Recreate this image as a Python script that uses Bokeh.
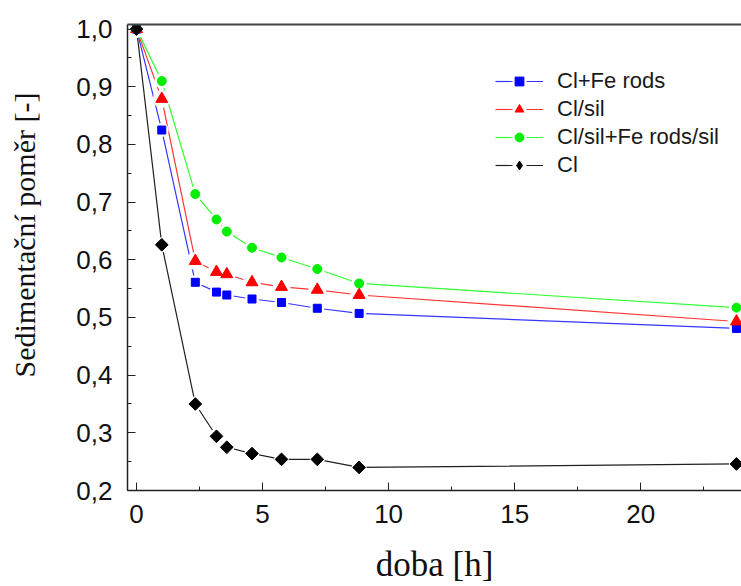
import numpy as np
from bokeh.plotting import figure
from bokeh.models import Legend, LegendItem, FixedTicker, LinearAxis, Range1d
from bokeh.embed import file_html
from bokeh.resources import INLINE

# ---- data ----
time_h = [0, 1.0, 2.33, 3.17, 3.58, 4.58, 5.75, 7.17, 8.83, 23.8]
cl_fe_rods = [1.0, 0.825, 0.561, 0.544, 0.539, 0.532, 0.526, 0.516, 0.507, 0.481]
cl_sil = [1.0, 0.879, 0.598, 0.579, 0.575, 0.561, 0.553, 0.548, 0.539, 0.493]
cl_sil_fe_rods_sil = [1.0, 0.910, 0.714, 0.670, 0.649, 0.621, 0.604, 0.584, 0.559, 0.517]
cl = [1.0, 0.626, 0.350, 0.294, 0.275, 0.264, 0.254, 0.254, 0.240, 0.246]

series_names = ["Cl+Fe rods", "Cl/sil", "Cl/sil+Fe rods/sil", "Cl"]
y_ticks = [0.2, 0.3, 0.4, 0.5, 0.6, 0.7, 0.8, 0.9, 1.0]
y_tick_labels = ["0,2", "0,3", "0,4", "0,5", "0,6", "0,7", "0,8", "0,9", "1,0"]
y_minor = [0.25, 0.35, 0.45, 0.55, 0.65, 0.75, 0.85, 0.95]
x_ticks = [0, 5, 10, 15, 20]
x_tick_labels = ["0", "5", "10", "15", "20"]
x_minor = [2.5, 7.5, 12.5, 17.5, 22.5]
x_title = "doba [h]"
y_title = "Sedimentační poměr [-]"

p = figure(width=741, height=586, output_backend="svg", toolbar_location=None,
           x_range=Range1d(-0.36, 24.0), y_range=Range1d(0.2, 1.008))
p.background_fill_color = "white"
p.border_fill_color = "white"
p.outline_line_color = None
p.xgrid.grid_line_color = None
p.ygrid.grid_line_color = None
p.min_border_top = 24
p.min_border_right = 0
p.min_border_left = 127
p.min_border_bottom = 95

# (values, marker colour, line colour, marker, plot size, legend marker, legend size, angle)
styles = [
    (cl_fe_rods, "#0000ff", "#3535ff", "square", 8, "square", 7, 0.0),
    (cl_sil, "#ff0000", "#ff3535", "triangle", 12, "triangle", 11, 0.0),
    (cl_sil_fe_rods_sil, "#00ee00", "#30ff30", "circle", 9, "circle", 8, 0.0),
    (cl, "#000000", "#202020", "square", 9, "diamond", 15, np.pi / 4),
]
for name, (ys, mc, lc, mk, sz, lmk, lsz, ang) in zip(series_names, styles):
    p.line(time_h, ys, line_color=lc, line_width=1.2)
for name, (ys, mc, lc, mk, sz, lmk, lsz, ang) in zip(series_names, styles):
    p.scatter(time_h, ys, marker="circle", size=sz + 6, fill_color="white", line_color=None)
for name, (ys, mc, lc, mk, sz, lmk, lsz, ang) in zip(series_names, styles):
    p.scatter(time_h, ys, marker=mk, size=sz, angle=ang, fill_color=mc, line_color=mc)

# legend-only glyphs (kept outside the visible range)
items = []
for name, (ys, mc, lc, mk, sz, lmk, lsz, ang) in zip(series_names, styles):
    l = p.line(x=[-100, -99], y=[-100, -100], line_color=lc, line_width=1.2, line_dash="17 14")
    m = p.scatter(x=[-100], y=[-100], marker=lmk, size=lsz, fill_color=mc, line_color=mc)
    items.append(LegendItem(label=name, renderers=[l, m]))

legend = Legend(items=items, location=(368, 312), orientation="vertical")
legend.border_line_color = None
legend.background_fill_alpha = 0
legend.padding = 0
legend.margin = 0
legend.spacing = 2
legend.glyph_width = 48
legend.glyph_height = 22
legend.label_height = 22
legend.label_standoff = 14
legend.label_text_font = "Liberation Sans"
legend.label_text_font_size = "22px"
legend.label_text_color = "#1a1a1a"
p.add_layout(legend, "center")

for ax in (p.xaxis[0], p.yaxis[0]):
    ax.axis_line_color = "#222222"
    ax.axis_line_width = 1.5
    ax.major_tick_in = 8
    ax.major_tick_out = 0
    ax.minor_tick_in = 4
    ax.minor_tick_out = 0
    ax.major_tick_line_color = "#222222"
    ax.minor_tick_line_color = "#222222"
    ax.major_label_text_font = "Liberation Sans"
    ax.major_label_text_font_size = "26px"
    ax.major_label_text_color = "#111111"
    ax.axis_label_text_font = "Liberation Serif"
    ax.axis_label_text_font_style = "normal"
    ax.axis_label_text_color = "#111111"

p.yaxis.ticker = FixedTicker(ticks=y_ticks, minor_ticks=y_minor)
p.yaxis.major_label_overrides = dict(zip(y_ticks, y_tick_labels))
p.xaxis.ticker = FixedTicker(ticks=x_ticks, minor_ticks=x_minor)
p.xaxis.major_label_overrides = dict(zip(x_ticks, x_tick_labels))
p.yaxis.major_label_standoff = 15
p.xaxis.major_label_standoff = 14

p.xaxis.axis_label = x_title
p.xaxis.axis_label_text_font_size = "35px"
p.xaxis.axis_label_standoff = 19

# leading no-break spaces lift the rotated title slightly above the frame centre
p.yaxis.axis_label = "\u00a0" * 6 + y_title
p.yaxis.axis_label_text_font_size = "30px"
p.yaxis.axis_label_standoff = 32

top = LinearAxis(ticker=FixedTicker(ticks=[]), axis_line_color="#444444", axis_line_width=2,
                 major_label_text_font_size="0px", major_tick_line_color=None,
                 minor_tick_line_color=None)
p.add_layout(top, "above")

open("out.html", "w").write(file_html(p, INLINE))
